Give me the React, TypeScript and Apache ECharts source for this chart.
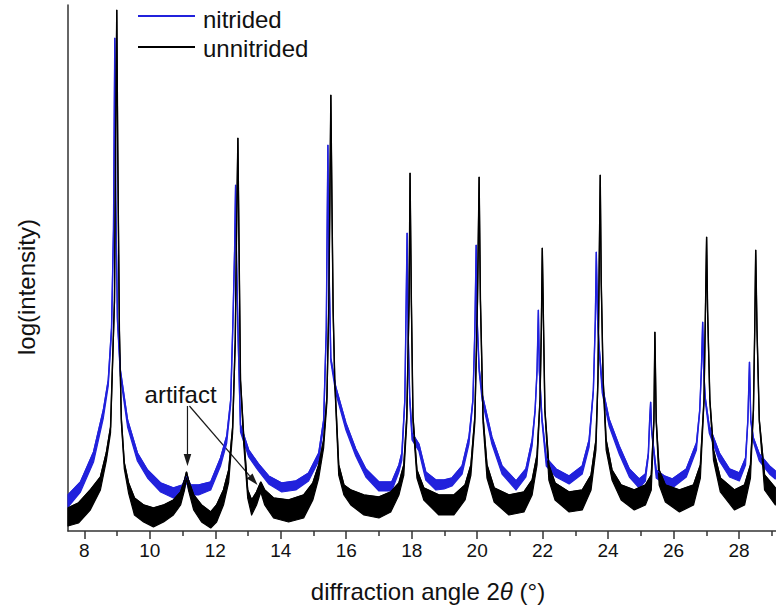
import React, { useEffect, useRef } from "react";
import * as echarts from "echarts";

// ---- axis ticks ----
const xTickValues = [8, 10, 12, 14, 16, 18, 20, 22, 24, 26, 28];
const xMinorTickValues = [9, 11, 13, 15, 17, 19, 21, 23, 25, 27, 29];

// ---- unnitrided (black): diffraction angle, lower / upper edge of the noisy trace (log intensity, arb. units) ----
const unnitridedAngle = [
  7.5, 7.82, 8.18, 8.49, 8.67, 8.8, 8.92, 8.96, 8.99, 9.02, 9.07, 9.13, 9.22, 9.35, 9.53, 9.81, 10.11, 10.42,
  10.72, 10.94, 11.06, 11.12, 11.18, 11.34, 11.58, 11.86, 12.04, 12.25, 12.41, 12.53, 12.61, 12.65, 12.69, 12.73,
  12.77, 12.87, 12.99, 13.11, 13.26, 13.39, 13.51, 13.78, 14.24, 14.7, 14.98, 15.16, 15.31, 15.41, 15.47, 15.5,
  15.53, 15.57, 15.6, 15.65, 15.77, 15.93, 16.14, 16.54, 17.0, 17.36, 17.61, 17.76, 17.85, 17.92, 17.95, 17.99,
  18.04, 18.16, 18.37, 18.83, 19.29, 19.63, 19.81, 19.93, 20.01, 20.06, 20.1, 20.18, 20.3, 20.52, 20.97, 21.43,
  21.68, 21.83, 21.92, 21.96, 21.99, 22.03, 22.07, 22.19, 22.38, 22.81, 23.21, 23.48, 23.63, 23.69, 23.73, 23.76,
  23.79, 23.85, 23.94, 24.12, 24.4, 24.8, 25.14, 25.32, 25.4, 25.43, 25.47, 25.56, 25.75, 26.18, 26.61, 26.82,
  26.93, 26.97, 27.01, 27.04, 27.11, 27.22, 27.43, 27.86, 28.17, 28.35, 28.44, 28.48, 28.51, 28.55, 28.62, 28.78,
  29.11,
];
const unnitridedLow = [
  5, 8, 21, 41, 70, 98, 229, 409, 519, 379, 199, 108, 62, 38, 16, 9, 4, 9,
  16, 26, 41, 53, 41, 21, 9, 3, 9, 26, 49, 98, 189, 299, 391, 269,
  149, 86, 33, 16, 26, 39, 26, 13, 9, 13, 31, 53, 83, 128, 229, 329,
  434, 309, 219, 147, 56, 36, 26, 16, 13, 19, 36, 56, 108, 229, 356, 229,
  108, 53, 31, 16, 16, 31, 56, 108, 229, 352, 229, 108, 53, 29, 16, 19,
  36, 66, 129, 199, 281, 199, 119, 51, 31, 19, 21, 41, 81, 149, 269, 354,
  249, 149, 81, 51, 31, 21, 26, 41, 109, 197, 109, 46, 29, 19, 26, 53,
  129, 209, 292, 219, 129, 71, 39, 21, 26, 53, 119, 199, 279, 199, 109, 41,
  26,
];
const unnitridedHigh = [
  23, 28, 41, 54, 78, 104, 231, 411, 521, 381, 201, 112, 68, 48, 33, 26, 23, 26,
  31, 39, 51, 59, 51, 36, 26, 19, 26, 41, 61, 104, 191, 301, 393, 271,
  151, 94, 41, 31, 39, 49, 41, 33, 31, 36, 48, 66, 91, 134, 231, 331,
  436, 311, 221, 151, 66, 46, 41, 36, 34, 39, 48, 66, 114, 231, 358, 231,
  114, 61, 43, 36, 36, 46, 66, 114, 231, 354, 231, 114, 66, 43, 36, 39,
  51, 76, 131, 201, 283, 201, 121, 66, 48, 39, 41, 56, 91, 151, 271, 356,
  251, 151, 91, 61, 46, 41, 46, 56, 111, 199, 111, 61, 46, 41, 46, 66,
  131, 211, 294, 221, 131, 81, 53, 41, 46, 66, 121, 201, 281, 201, 111, 56,
  43,
];

// ---- nitrided (blue) ----
const nitridedAngle = [
  7.5, 7.88, 8.28, 8.58, 8.73, 8.83, 8.89, 8.93, 8.96, 9.01, 9.1, 9.32, 9.62, 9.93, 10.33, 10.72, 11.0, 11.12,
  11.24, 11.49, 11.86, 12.16, 12.35, 12.47, 12.54, 12.59, 12.62, 12.65, 12.7, 12.77, 13.02, 13.32, 13.63, 14.03,
  14.46, 14.85, 15.16, 15.31, 15.39, 15.44, 15.47, 15.53, 15.68, 15.99, 16.29, 16.6, 17.0, 17.39, 17.61, 17.7,
  17.79, 17.82, 17.86, 17.89, 17.94, 18.01, 18.22, 18.43, 18.74, 18.99, 19.23, 19.54, 19.75, 19.87, 19.93, 19.97,
  20.0, 20.06, 20.15, 20.45, 20.76, 21.19, 21.49, 21.68, 21.77, 21.83, 21.87, 21.9, 21.98, 22.11, 22.41, 22.81,
  23.21, 23.42, 23.55, 23.61, 23.64, 23.68, 23.73, 23.82, 24.03, 24.34, 24.65, 24.95, 25.14, 25.23, 25.27, 25.3,
  25.33, 25.47, 25.72, 25.96, 26.39, 26.7, 26.8, 26.85, 26.89, 26.92, 26.97, 27.09, 27.4, 27.71, 28.01, 28.2,
  28.27, 28.32, 28.36, 28.44, 28.62, 28.93, 29.11,
];
const nitridedLow = [
  24, 39, 69, 113, 145, 198, 300, 491, 329, 209, 155, 104, 70, 53, 39, 33, 36, 49,
  36, 36, 41, 65, 88, 126, 209, 279, 344, 269, 189, 99, 74, 60, 47, 39,
  41, 50, 70, 105, 199, 384, 269, 169, 138, 101, 75, 54, 40, 40, 59, 71,
  129, 199, 296, 199, 130, 91, 80, 51, 41, 42, 45, 57, 87, 129, 199, 284,
  209, 159, 131, 87, 57, 41, 54, 85, 119, 159, 219, 159, 109, 65, 54, 47,
  57, 84, 139, 209, 277, 209, 179, 138, 105, 77, 54, 43, 50, 74, 109, 127,
  99, 53, 47, 43, 54, 81, 119, 159, 207, 159, 129, 98, 70, 54, 50, 66,
  109, 167, 109, 89, 70, 57, 52,
];
const nitridedHigh = [
  36, 49, 79, 121, 151, 203, 302, 493, 331, 213, 161, 111, 78, 61, 48, 43, 46, 56,
  46, 46, 49, 73, 95, 131, 211, 281, 346, 271, 191, 106, 81, 67, 55, 48,
  50, 58, 78, 111, 201, 386, 271, 173, 144, 108, 82, 62, 49, 49, 66, 78,
  131, 201, 298, 201, 134, 98, 87, 59, 51, 51, 53, 65, 94, 131, 201, 286,
  211, 163, 137, 94, 65, 50, 62, 91, 121, 161, 221, 161, 113, 73, 62, 55,
  65, 91, 141, 211, 279, 211, 183, 145, 112, 85, 62, 52, 57, 78, 111, 129,
  101, 61, 55, 52, 62, 88, 121, 161, 209, 161, 133, 105, 78, 62, 58, 73,
  111, 169, 111, 93, 77, 65, 60,
];

// ---- annotation anchors (data coordinates) ----
const artifactLabelAt = [10.94, 137];
const artifactArrowTails = [
  [11.15, 125],
  [11.21, 125],
];
const artifactArrowTips = [
  [11.15, 65],
  [13.29, 46],
];

const NITRIDED_COLOR = "#2121dc";
const UNNITRIDED_COLOR = "#000000";
const FONT = "'Liberation Sans', Arial, Helvetica, sans-serif";

function rows(xs: number[], lo: number[], hi: number[]) {
  return xs.map((x, i) => [x, lo[i], hi[i]]);
}

function bandRenderer(xs: number[], lo: number[], hi: number[], color: string) {
  return (params: any, api: any) => {
    if (params.dataIndex !== 0) return null;
    const top = xs.map((x, i) => api.coord([x, hi[i]]));
    const bottom = xs.map((x, i) => api.coord([x, lo[i]])).reverse();
    return {
      type: "polygon",
      shape: { points: top.concat(bottom) },
      style: { fill: color, stroke: color, lineWidth: 1.2, lineJoin: "round" },
      silent: true,
    };
  };
}

export default function App() {
  const ref = useRef<HTMLDivElement>(null);

  useEffect(() => {
    document.body.style.margin = "0";
    if (!ref.current) return;
    const chart = echarts.init(ref.current, undefined, { renderer: "svg" });

    const option: any = {
      animation: false,
      backgroundColor: "#ffffff",
      grid: { left: 68, right: 0, top: 5, bottom: 82, containLabel: false },
      xAxis: [
        {
          type: "value",
          min: 7.5,
          max: 29.13,
          position: "bottom",
          axisLine: { show: true, lineStyle: { color: "#333", width: 1.5 } },
          axisTick: {
            show: true,
            customValues: xTickValues,
            length: 8,
            lineStyle: { color: "#333", width: 1.5 },
          },
          axisLabel: {
            customValues: xTickValues,
            fontSize: 19,
            color: "#111",
            margin: 10,
            fontFamily: FONT,
          },
          splitLine: { show: false },
        },
        {
          type: "value",
          min: 7.5,
          max: 29.13,
          gridIndex: 0,
          position: "bottom",
          offset: 0,
          axisLine: { show: false },
          axisTick: {
            show: true,
            customValues: xMinorTickValues,
            length: 5,
            lineStyle: { color: "#333", width: 1.5 },
          },
          axisLabel: { show: false },
          splitLine: { show: false },
        },
      ],
      yAxis: {
        type: "value",
        min: 0,
        max: 526,
        axisLine: { show: true, lineStyle: { color: "#333", width: 1.5 } },
        axisTick: { show: false },
        axisLabel: { show: false },
        splitLine: { show: false },
      },
      series: [
        {
          name: "nitrided",
          type: "custom",
          renderItem: bandRenderer(nitridedAngle, nitridedLow, nitridedHigh, NITRIDED_COLOR),
          data: rows(nitridedAngle, nitridedLow, nitridedHigh),
          encode: { x: 0, y: [1, 2] },
          silent: true,
        },
        {
          name: "nitrided",
          type: "line",
          data: nitridedAngle.map((x, i) => [x, nitridedHigh[i]]),
          showSymbol: false,
          lineStyle: { color: NITRIDED_COLOR, width: 1.4 },
          itemStyle: { color: NITRIDED_COLOR },
          silent: true,
        },
        {
          name: "unnitrided",
          type: "custom",
          renderItem: bandRenderer(unnitridedAngle, unnitridedLow, unnitridedHigh, UNNITRIDED_COLOR),
          data: rows(unnitridedAngle, unnitridedLow, unnitridedHigh),
          encode: { x: 0, y: [1, 2] },
          silent: true,
        },
        {
          name: "unnitrided",
          type: "line",
          data: unnitridedAngle.map((x, i) => [x, unnitridedHigh[i]]),
          showSymbol: false,
          lineStyle: { color: UNNITRIDED_COLOR, width: 1.4 },
          itemStyle: { color: UNNITRIDED_COLOR },
          silent: true,
        },
      ],
    };
    chart.setOption(option);

    // annotation and legend graphics
    const px = (p: number[]) => chart.convertToPixel({ gridIndex: 0 }, p) as number[];
    const label = px(artifactLabelAt);
    const arrows: any[] = [];
    artifactArrowTails.forEach((tail, i) => {
      const a = px(tail);
      const b = px(artifactArrowTips[i]);
      const dx = b[0] - a[0];
      const dy = b[1] - a[1];
      const len = Math.sqrt(dx * dx + dy * dy);
      const ux = dx / len;
      const uy = dy / len;
      const headLen = 12;
      const headHalf = 3.8;
      const bx = b[0] - ux * headLen;
      const by = b[1] - uy * headLen;
      arrows.push({
        type: "line",
        shape: { x1: a[0], y1: a[1], x2: bx, y2: by },
        style: { stroke: "#1a1a1a", lineWidth: 1.2 },
        silent: true,
      });
      arrows.push({
        type: "polygon",
        shape: {
          points: [
            [b[0], b[1]],
            [bx - uy * headHalf, by + ux * headHalf],
            [bx + uy * headHalf, by - ux * headHalf],
          ],
        },
        style: { fill: "#1a1a1a" },
        silent: true,
      });
    });

    chart.setOption({
      graphic: [
        // legend
        { type: "line", shape: { x1: 138, y1: 16, x2: 195, y2: 16 }, style: { stroke: NITRIDED_COLOR, lineWidth: 2 } },
        {
          type: "text",
          x: 203,
          y: 19.5,
          style: { text: "nitrided", fontSize: 24, fontFamily: FONT, fill: "#111", verticalAlign: "middle" },
        },
        { type: "line", shape: { x1: 138, y1: 47, x2: 195, y2: 47 }, style: { stroke: UNNITRIDED_COLOR, lineWidth: 2 } },
        {
          type: "text",
          x: 203,
          y: 48.5,
          style: { text: "unnitrided", fontSize: 24, fontFamily: FONT, fill: "#111", verticalAlign: "middle" },
        },
        // axis titles
        {
          type: "text",
          x: 26,
          y: 287,
          rotation: Math.PI / 2,
          style: {
            text: "log(intensity)",
            fontSize: 24,
            fontFamily: FONT,
            fill: "#111",
            align: "center",
            verticalAlign: "middle",
          },
        },
        {
          type: "text",
          x: 428,
          y: 591,
          style: {
            text: "diffraction angle 2{th|θ} (°)",
            fontSize: 24,
            fontFamily: FONT,
            fill: "#111",
            align: "center",
            verticalAlign: "middle",
            rich: { th: { fontStyle: "italic", fontSize: 24, fontFamily: FONT, fill: "#111" } },
          },
        },
        // artifact annotation
        {
          type: "text",
          x: label[0],
          y: label[1],
          style: {
            text: "artifact",
            fontSize: 24,
            fontFamily: FONT,
            fill: "#111",
            align: "center",
            verticalAlign: "middle",
          },
        },
        ...arrows,
      ],
    });

    return () => chart.dispose();
  }, []);

  return <div ref={ref} style={{ width: 776, height: 613 }} />;
}
